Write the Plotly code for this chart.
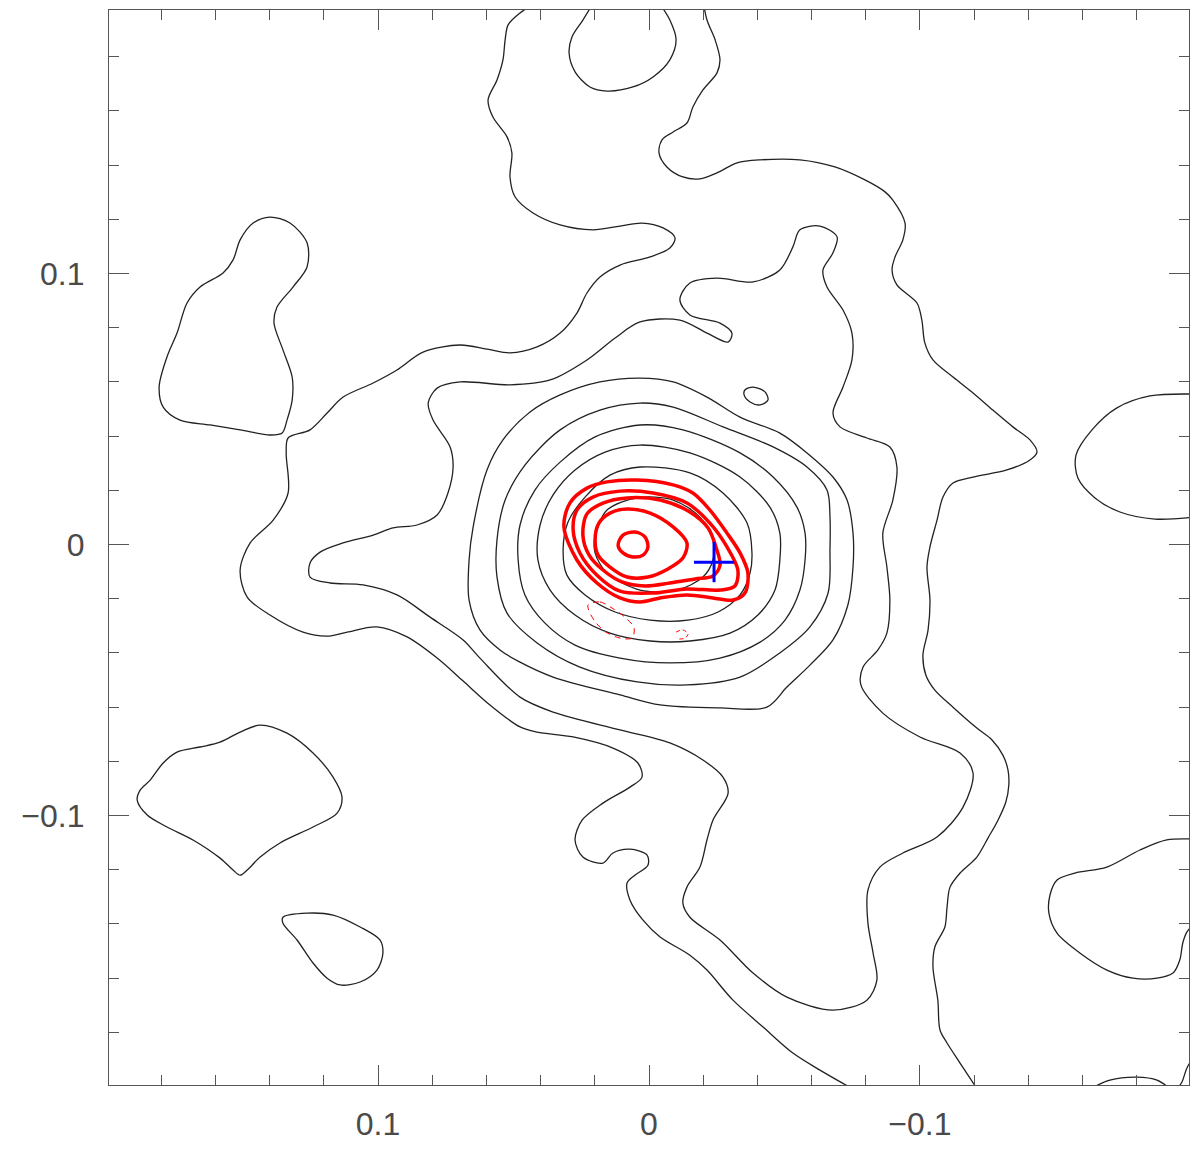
import plotly.graph_objects as go

# contour paths; offsets in arcsec (x decreases to the right)
lvl1_main = [(0.0402, 0.2009), (0.0476, 0.1961), (0.0520, 0.1917), (0.0531, 0.1862), (0.0539, 0.1788),
             (0.0561, 0.1714), (0.0594, 0.1640), (0.0576, 0.1577), (0.0524, 0.1504), (0.0506, 0.1445),
             (0.0513, 0.1356), (0.0494, 0.1282), (0.0428, 0.1223), (0.0328, 0.1179), (0.0207, 0.1161),
             (0.0107, 0.1175), (0.0026, 0.1186), (-0.0052, 0.1168), (-0.0096, 0.1131), (-0.0077, 0.1094),
             (-0.0004, 0.1061), (0.0107, 0.1031), (0.0181, 0.0987), (0.0229, 0.0928), (0.0266, 0.0854),
             (0.0328, 0.0780), (0.0413, 0.0729), (0.0513, 0.0707), (0.0598, 0.0721), (0.0697, 0.0736),
             (0.0834, 0.0710), (0.0930, 0.0644), (0.1018, 0.0596), (0.1129, 0.0544), (0.1188, 0.0485),
             (0.1251, 0.0423), (0.1332, 0.0393), (0.1339, 0.0338), (0.1332, 0.0190), (0.1387, 0.0090),
             (0.1472, 0.0006), (0.1509, -0.0094), (0.1483, -0.0194), (0.1399, -0.0260), (0.1277, -0.0323),
             (0.1188, -0.0338), (0.1114, -0.0323), (0.1004, -0.0304), (0.0893, -0.0341), (0.0782, -0.0419),
             (0.0690, -0.0500), (0.0587, -0.0592), (0.0476, -0.0673), (0.0413, -0.0692), (0.0280, -0.0710),
             (0.0133, -0.0751), (0.0041, -0.0806), (0.0026, -0.0858), (0.0070, -0.0895), (0.0170, -0.0954),
             (0.0247, -0.1017), (0.0273, -0.1090), (0.0244, -0.1153), (0.0170, -0.1175), (0.0133, -0.1138),
             (0.0070, -0.1124), (0.0007, -0.1146), (0.0004, -0.1183), (0.0052, -0.1220), (0.0081, -0.1249),
             (0.0070, -0.1312), (0.0022, -0.1386), (-0.0041, -0.1448), (-0.0151, -0.1515), (-0.0214, -0.1570),
             (-0.0310, -0.1681), (-0.0421, -0.1780), (-0.0531, -0.1876), (-0.0631, -0.1939), (-0.0760, -0.2013)]

lvl1_right = [(-0.0199, 0.2009), (-0.0214, 0.1935), (-0.0244, 0.1862), (-0.0262, 0.1788), (-0.0251, 0.1740),
              (-0.0199, 0.1677), (-0.0162, 0.1614), (-0.0140, 0.1555), (-0.0089, 0.1522), (-0.0048, 0.1493),
              (-0.0037, 0.1445), (-0.0066, 0.1393), (-0.0125, 0.1356), (-0.0188, 0.1349), (-0.0251, 0.1371),
              (-0.0325, 0.1408), (-0.0410, 0.1419), (-0.0557, 0.1419), (-0.0686, 0.1393), (-0.0797, 0.1345),
              (-0.0871, 0.1301), (-0.0900, 0.1271), (-0.0945, 0.1186), (-0.0937, 0.1124), (-0.0908, 0.1061),
              (-0.0897, 0.1013), (-0.0915, 0.0958), (-0.0989, 0.0891), (-0.1007, 0.0828), (-0.1018, 0.0744),
              (-0.1048, 0.0681), (-0.1122, 0.0618), (-0.1196, 0.0559), (-0.1269, 0.0496), (-0.1343, 0.0434),
              (-0.1406, 0.0386), (-0.1432, 0.0341), (-0.1406, 0.0312), (-0.1321, 0.0275), (-0.1196, 0.0249),
              (-0.1122, 0.0227), (-0.1085, 0.0175), (-0.1063, 0.0090), (-0.1037, -0.0009), (-0.1026, -0.0083),
              (-0.1037, -0.0205), (-0.1030, -0.0315), (-0.1011, -0.0408), (-0.1022, -0.0482), (-0.1055, -0.0537),
              (-0.1122, -0.0600), (-0.1210, -0.0677), (-0.1266, -0.0721), (-0.1306, -0.0777), (-0.1325, -0.0832),
              (-0.1328, -0.0887), (-0.1317, -0.0950), (-0.1288, -0.1017), (-0.1251, -0.1083), (-0.1210, -0.1153),
              (-0.1148, -0.1212), (-0.1111, -0.1264), (-0.1100, -0.1338), (-0.1092, -0.1411), (-0.1055, -0.1485),
              (-0.1048, -0.1559), (-0.1066, -0.1681), (-0.1074, -0.1791), (-0.1100, -0.1839), (-0.1148, -0.1913),
              (-0.1214, -0.2013)]

top_hole = [(0.0199, 0.2009), (0.0244, 0.1935), (0.0284, 0.1873), (0.0295, 0.1814), (0.0273, 0.1744),
            (0.0218, 0.1688), (0.0155, 0.1673), (0.0059, 0.1688), (-0.0015, 0.1725), (-0.0077, 0.1788),
            (-0.0100, 0.1862), (-0.0077, 0.1935), (-0.0030, 0.2009)]

left_island = [(0.1399, 0.1208), (0.1325, 0.1186), (0.1262, 0.1113), (0.1262, 0.1024), (0.1314, 0.0950),
               (0.1373, 0.0876), (0.1384, 0.0817), (0.1351, 0.0718), (0.1317, 0.0618), (0.1317, 0.0533),
               (0.1336, 0.0459), (0.1354, 0.0411), (0.1399, 0.0404), (0.1509, 0.0423), (0.1620, 0.0441),
               (0.1731, 0.0459), (0.1793, 0.0507), (0.1808, 0.0581), (0.1779, 0.0692), (0.1742, 0.0780),
               (0.1705, 0.0891), (0.1657, 0.0950), (0.1572, 0.1002), (0.1535, 0.1050), (0.1509, 0.1124),
               (0.1461, 0.1186)]

low_left_island = [(0.1435, -0.0666), (0.1336, -0.0696), (0.1240, -0.0769), (0.1166, -0.0858), (0.1133, -0.0932),
                   (0.1151, -0.0991), (0.1240, -0.1042), (0.1362, -0.1101), (0.1435, -0.1153), (0.1483, -0.1201),
                   (0.1509, -0.1220), (0.1535, -0.1201), (0.1583, -0.1157), (0.1683, -0.1090), (0.1779, -0.1042),
                   (0.1852, -0.0998), (0.1889, -0.0943), (0.1878, -0.0906), (0.1841, -0.0869), (0.1793, -0.0806),
                   (0.1742, -0.0766), (0.1657, -0.0747), (0.1583, -0.0729), (0.1509, -0.0692)]

small_island = [(0.1351, -0.1375), (0.1262, -0.1360), (0.1166, -0.1367), (0.1066, -0.1411), (0.0993, -0.1459),
                (0.0982, -0.1507), (0.1004, -0.1570), (0.1066, -0.1614), (0.1140, -0.1625), (0.1188, -0.1600),
                (0.1240, -0.1544), (0.1299, -0.1459), (0.1351, -0.1397)]

right_island = [(-0.2015, -0.1087), (-0.1911, -0.1090), (-0.1812, -0.1127), (-0.1690, -0.1190), (-0.1572, -0.1212),
                (-0.1506, -0.1238), (-0.1480, -0.1293), (-0.1476, -0.1360), (-0.1506, -0.1434), (-0.1590, -0.1507),
                (-0.1690, -0.1570), (-0.1786, -0.1600), (-0.1875, -0.1600), (-0.1934, -0.1581), (-0.1959, -0.1533),
                (-0.1970, -0.1470), (-0.1985, -0.1430), (-0.2007, -0.1404)]

upper_right_lobe = [(-0.2015, 0.0555), (-0.1849, 0.0548), (-0.1727, 0.0504), (-0.1635, 0.0423), (-0.1576, 0.0330),
                    (-0.1583, 0.0245), (-0.1646, 0.0172), (-0.1738, 0.0120), (-0.1867, 0.0094), (-0.2015, 0.0101)]

corner_arc_a = [(-0.1620, -0.2013), (-0.1701, -0.1976), (-0.1801, -0.1965), (-0.1875, -0.1976), (-0.1930, -0.2013)]
corner_arc_b = [(-0.1945, -0.2013), (-0.1967, -0.1983), (-0.1985, -0.1932), (-0.2015, -0.1884)]

knot = [(-0.0354, 0.0570), (-0.0384, 0.0581), (-0.0428, 0.0563), (-0.0439, 0.0533), (-0.0410, 0.0515),
        (-0.0373, 0.0526), (-0.0351, 0.0552)]

lvl2 = [(0.0476, -0.0563), (0.0624, -0.0419), (0.0686, -0.0352), (0.0808, -0.0268), (0.0930, -0.0186),
        (0.1055, -0.0149), (0.1177, -0.0142), (0.1251, -0.0120), (0.1251, -0.0068), (0.1214, -0.0028),
        (0.1129, 0.0006), (0.1018, 0.0035), (0.0945, 0.0061), (0.0856, 0.0072), (0.0782, 0.0109),
        (0.0742, 0.0190), (0.0723, 0.0286), (0.0734, 0.0360), (0.0797, 0.0459), (0.0815, 0.0522),
        (0.0782, 0.0577), (0.0697, 0.0600), (0.0513, 0.0589), (0.0365, 0.0607), (0.0229, 0.0681),
        (0.0125, 0.0762), (0.0033, 0.0821), (-0.0114, 0.0828), (-0.0214, 0.0780), (-0.0292, 0.0747),
        (-0.0306, 0.0780), (-0.0262, 0.0817), (-0.0151, 0.0847), (-0.0114, 0.0902), (-0.0151, 0.0965),
        (-0.0251, 0.0983), (-0.0384, 0.0969), (-0.0483, 0.1013), (-0.0531, 0.1098), (-0.0557, 0.1161),
        (-0.0631, 0.1175), (-0.0694, 0.1135), (-0.0679, 0.1076), (-0.0642, 0.1013), (-0.0657, 0.0950),
        (-0.0716, 0.0865), (-0.0749, 0.0780), (-0.0749, 0.0681), (-0.0716, 0.0581), (-0.0679, 0.0485),
        (-0.0705, 0.0434), (-0.0804, 0.0393), (-0.0889, 0.0360), (-0.0915, 0.0286), (-0.0900, 0.0164),
        (-0.0863, 0.0042), (-0.0878, -0.0083), (-0.0889, -0.0205), (-0.0878, -0.0327), (-0.0845, -0.0389),
        (-0.0790, -0.0452), (-0.0782, -0.0518), (-0.0863, -0.0622), (-0.1000, -0.0710), (-0.1148, -0.0769),
        (-0.1196, -0.0843), (-0.1159, -0.0969), (-0.1063, -0.1079), (-0.0937, -0.1138), (-0.0852, -0.1190),
        (-0.0808, -0.1275), (-0.0808, -0.1397), (-0.0827, -0.1507), (-0.0841, -0.1607), (-0.0804, -0.1681),
        (-0.0679, -0.1718), (-0.0509, -0.1670), (-0.0384, -0.1581), (-0.0262, -0.1459), (-0.0151, -0.1375),
        (-0.0125, -0.1323), (-0.0140, -0.1264), (-0.0188, -0.1190), (-0.0214, -0.1090), (-0.0236, -0.1017),
        (-0.0292, -0.0917), (-0.0273, -0.0858), (-0.0199, -0.0795), (-0.0077, -0.0732), (0.0107, -0.0684),
        (0.0354, -0.0618)]

ring3 = [(0.0664, -0.0057), (0.0664, -0.0205), (0.0624, -0.0315), (0.0550, -0.0389), (0.0476, -0.0434),
         (0.0354, -0.0489), (0.0107, -0.0555), (-0.0041, -0.0592), (-0.0262, -0.0603), (-0.0435, -0.0600),
         (-0.0509, -0.0526), (-0.0594, -0.0445), (-0.0679, -0.0352), (-0.0734, -0.0223), (-0.0753, -0.0083),
         (-0.0753, 0.0042), (-0.0731, 0.0164), (-0.0679, 0.0249), (-0.0583, 0.0338), (-0.0483, 0.0411),
         (-0.0336, 0.0470), (-0.0214, 0.0544), (-0.0089, 0.0600), (0.0033, 0.0614), (0.0181, 0.0600),
         (0.0328, 0.0552), (0.0439, 0.0489), (0.0539, 0.0386), (0.0598, 0.0275), (0.0649, 0.0065)]

ring4 = [(0.0561, -0.0120), (0.0524, -0.0253), (0.0413, -0.0363), (0.0255, -0.0452), (0.0044, -0.0507),
         (-0.0140, -0.0518), (-0.0336, -0.0489), (-0.0483, -0.0400), (-0.0594, -0.0304), (-0.0661, -0.0179),
         (-0.0668, -0.0020), (-0.0668, 0.0101), (-0.0657, 0.0201), (-0.0583, 0.0286), (-0.0458, 0.0360),
         (-0.0273, 0.0434), (-0.0089, 0.0507), (0.0033, 0.0522), (0.0181, 0.0496), (0.0328, 0.0423),
         (0.0458, 0.0293), (0.0531, 0.0164), (0.0561, 0.0017)]

ring5 = [(0.0483, -0.0057), (0.0458, -0.0186), (0.0384, -0.0290), (0.0273, -0.0371), (0.0107, -0.0419),
         (-0.0077, -0.0437), (-0.0262, -0.0419), (-0.0410, -0.0360), (-0.0502, -0.0279), (-0.0557, -0.0168),
         (-0.0576, -0.0057), (-0.0576, 0.0042), (-0.0546, 0.0138), (-0.0458, 0.0249), (-0.0336, 0.0338),
         (-0.0125, 0.0423), (0.0033, 0.0441), (0.0199, 0.0397), (0.0328, 0.0304), (0.0421, 0.0201),
         (0.0476, 0.0072)]

ring6 = [(0.0410, -0.0057), (0.0365, -0.0168), (0.0273, -0.0260), (0.0144, -0.0327), (-0.0004, -0.0356),
         (-0.0151, -0.0356), (-0.0299, -0.0327), (-0.0402, -0.0260), (-0.0465, -0.0168), (-0.0483, -0.0057),
         (-0.0483, 0.0042), (-0.0446, 0.0138), (-0.0336, 0.0249), (-0.0151, 0.0338), (0.0033, 0.0367),
         (0.0162, 0.0341), (0.0273, 0.0275), (0.0354, 0.0183), (0.0402, 0.0072)]

ring7 = [(0.0317, -0.0020), (0.0303, -0.0113), (0.0236, -0.0186), (0.0125, -0.0249), (-0.0004, -0.0279),
         (-0.0144, -0.0279), (-0.0255, -0.0249), (-0.0336, -0.0186), (-0.0373, -0.0105), (-0.0380, -0.0031),
         (-0.0362, 0.0079), (-0.0273, 0.0190), (-0.0151, 0.0264), (0.0033, 0.0286), (0.0144, 0.0256),
         (0.0236, 0.0175), (0.0299, 0.0083)]

ring8 = [(0.0199, 0.0028), (0.0155, 0.0127), (0.0044, 0.0172), (-0.0089, 0.0164), (-0.0188, 0.0101),
         (-0.0236, 0.0017), (-0.0236, -0.0057), (-0.0199, -0.0120), (-0.0103, -0.0168), (0.0033, -0.0168),
         (0.0155, -0.0105), (0.0199, -0.0031)]

# second map (red), positive levels
red_a = [(0.0314, 0.0065), (0.0292, 0.0153), (0.0229, 0.0208), (0.0155, 0.0231), (0.0044, 0.0238),
         (-0.0089, 0.0220), (-0.0162, 0.0190), (-0.0225, 0.0127), (-0.0288, 0.0042), (-0.0336, -0.0031),
         (-0.0365, -0.0105), (-0.0354, -0.0179), (-0.0310, -0.0205), (-0.0236, -0.0197), (-0.0140, -0.0186),
         (-0.0041, -0.0197), (0.0033, -0.0212), (0.0107, -0.0197), (0.0192, -0.0142), (0.0266, -0.0057)]

red_b = [(0.0280, 0.0054), (0.0266, 0.0127), (0.0207, 0.0175), (0.0107, 0.0197), (-0.0015, 0.0190),
         (-0.0140, 0.0153), (-0.0225, 0.0079), (-0.0288, -0.0009), (-0.0328, -0.0094), (-0.0317, -0.0153),
         (-0.0262, -0.0168), (-0.0140, -0.0164), (-0.0015, -0.0179), (0.0107, -0.0172), (0.0192, -0.0113),
         (0.0255, -0.0031)]

red_c = [(0.0244, 0.0035), (0.0229, 0.0113), (0.0170, 0.0153), (0.0081, 0.0172), (-0.0041, 0.0164),
         (-0.0151, 0.0120), (-0.0218, 0.0061), (-0.0247, -0.0009), (-0.0262, -0.0076), (-0.0236, -0.0116),
         (-0.0170, -0.0127), (-0.0077, -0.0142), (0.0015, -0.0153), (0.0100, -0.0138), (0.0170, -0.0094),
         (0.0221, -0.0039)]

red_d = [(0.0199, 0.0017), (0.0185, 0.0079), (0.0144, 0.0116), (0.0081, 0.0131), (-0.0004, 0.0116),
         (-0.0089, 0.0065), (-0.0140, 0.0006), (-0.0125, -0.0050), (-0.0070, -0.0090), (0.0004, -0.0120),
         (0.0081, -0.0120), (0.0144, -0.0083), (0.0188, -0.0039)]

red_e = [(0.0114, -0.0002), (0.0096, 0.0035), (0.0052, 0.0046), (0.0015, 0.0028), (0.0004, -0.0009),
         (0.0022, -0.0039), (0.0059, -0.0046), (0.0096, -0.0031)]

# negative levels (dashed)
red_neg_a = [(0.0225, -0.0223), (0.0181, -0.0212), (0.0137, -0.0234), (0.0089, -0.0268), (0.0055, -0.0308),
             (0.0063, -0.0345), (0.0107, -0.0345), (0.0159, -0.0323), (0.0203, -0.0279)]
red_neg_b = [(-0.0100, -0.0323), (-0.0125, -0.0315), (-0.0144, -0.0330), (-0.0133, -0.0345), (-0.0107, -0.0349)]

# marked position and its arm length
cross_x = -0.0240
cross_y = -0.0065
cross_arm = 0.0074

BLACK = "#222222"
RED = "#ff0000"

fig = go.Figure()


def add_path(pts, color, width, closed=False, dash="solid"):
    xs = [p[0] for p in pts]
    ys = [p[1] for p in pts]
    if closed:
        xs.append(xs[0])
        ys.append(ys[0])
    fig.add_trace(go.Scatter(x=xs, y=ys, mode="lines",
                             line=dict(color=color, width=width, dash=dash, shape="spline", smoothing=0.9),
                             hoverinfo="skip", showlegend=False))


for path in [lvl1_main, lvl1_right, top_hole, upper_right_lobe, right_island, corner_arc_a, corner_arc_b]:
    add_path(path, BLACK, 1.3)
for path in [left_island, low_left_island, small_island, knot, lvl2,
             ring3, ring4, ring5, ring6, ring7, ring8]:
    add_path(path, BLACK, 1.3, closed=True)

for path in [red_a, red_b, red_c, red_d, red_e]:
    add_path(path, RED, 3.5, closed=True)
add_path(red_neg_a, RED, 1, closed=True, dash="6px,5px")
add_path(red_neg_b, RED, 1, dash="4px,3px")

fig.add_trace(go.Scatter(x=[cross_x], y=[cross_y], mode="markers",
                         marker=dict(size=1, color="blue"),
                         error_x=dict(type="constant", value=cross_arm, width=0, thickness=3, color="blue"),
                         error_y=dict(type="constant", value=cross_arm, width=0, thickness=3, color="blue"),
                         hoverinfo="skip", showlegend=False))

axis_style = dict(
    showgrid=False, zeroline=False, automargin=False,
    showline=True, linecolor="#555555", linewidth=1.3, mirror="ticks",
    ticks="inside", ticklen=20, tickwidth=1.3, tickcolor="#555555",
    tickmode="linear", tick0=0, dtick=0.1,
    minor=dict(ticks="inside", ticklen=10, tickwidth=1.3, tickcolor="#555555", dtick=0.02, tick0=0),
    tickfont=dict(family="Liberation Sans, Arial, sans-serif", size=32, color="#4a4a4a"),
)

# page body adds an 8px offset, so the figure is sized to the remaining area
fig.update_xaxes(range=[0.1993, -0.1993], ticklabelstandoff=10, **axis_style)
fig.update_yaxes(range=[-0.1994, 0.1972], ticklabelstandoff=17, **axis_style)

fig.update_layout(
    width=1192, height=1144,
    margin=dict(l=101, r=11, t=2, b=67, autoexpand=False),
    plot_bgcolor="white", paper_bgcolor="white",
)

fig.write_html("out.html")
